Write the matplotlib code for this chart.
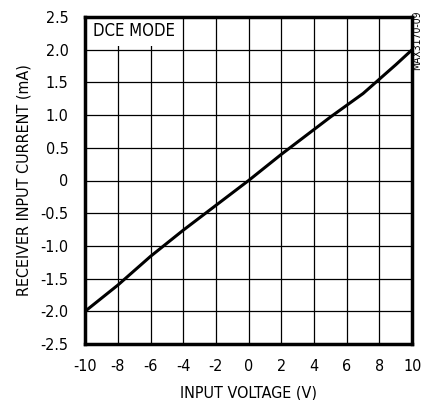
import matplotlib.pyplot as plt
import matplotlib.patches as mpatches
import numpy as np

plt.rcParams['font.family'] = ['DejaVu Sans']
plt.rcParams['font.stretch'] = 'condensed'
plt.rcParams['axes.unicode_minus'] = False

# input voltage (V) vs receiver input current (mA)
volts = [-10, -9, -8, -7, -6, -5, -4, -3, -2, -1, 0, 1, 2, 3, 4, 5, 6, 7, 8, 9, 10]
current = [-2.0, -1.8, -1.6, -1.38, -1.16, -0.96, -0.76, -0.57, -0.38, -0.19, 0.0,
           0.2, 0.4, 0.59, 0.78, 0.97, 1.15, 1.33, 1.55, 1.77, 2.0]

xticks = np.arange(-10, 11, 2)
yticks = [-2.5, -2.0, -1.5, -1.0, -0.5, 0, 0.5, 1.0, 1.5, 2.0, 2.5]
ylabels = ["-2.5", "-2.0", "-1.5", "-1.0", "-0.5", "0", "0.5", "1.0", "1.5", "2.0", "2.5"]

fig = plt.figure(figsize=(4.32, 4.0), dpi=100)
ax = fig.add_axes([0.197, 0.14, 0.757, 0.8175])

ax.plot(volts, current, color='black', lw=2.2, zorder=3)

ax.set_xlim(-10, 10)
ax.set_ylim(-2.5, 2.5)
ax.set_xticks(xticks)
ax.set_yticks(yticks)
ax.set_yticklabels(ylabels)
ax.set_axisbelow(True)
ax.grid(True, color='black', lw=0.9)
ax.tick_params(length=0, labelsize=11.5)
ax.tick_params(axis='x', pad=11)
ax.tick_params(axis='y', pad=12)
for s in ax.spines.values():
    s.set_linewidth(2.5)

ax.set_xlabel("INPUT VOLTAGE (V)", fontsize=11.5, labelpad=8)
ax.set_ylabel("RECEIVER INPUT CURRENT (mA)", fontsize=11.5, labelpad=6)

# white panel behind the mode label, hides the grid there
ax.add_patch(mpatches.Rectangle((-10, 2.05), 5.6, 0.45, facecolor='white',
                                edgecolor='none', zorder=1))
ax.text(-9.5, 2.29, "DCE MODE", fontsize=12, va='center', ha='left', zorder=4)
fig.text(0.966, 0.975, "MAX3170-09", rotation=90, fontsize=7.5, ha='center', va='top')

fig.savefig("out.png", dpi=100)
